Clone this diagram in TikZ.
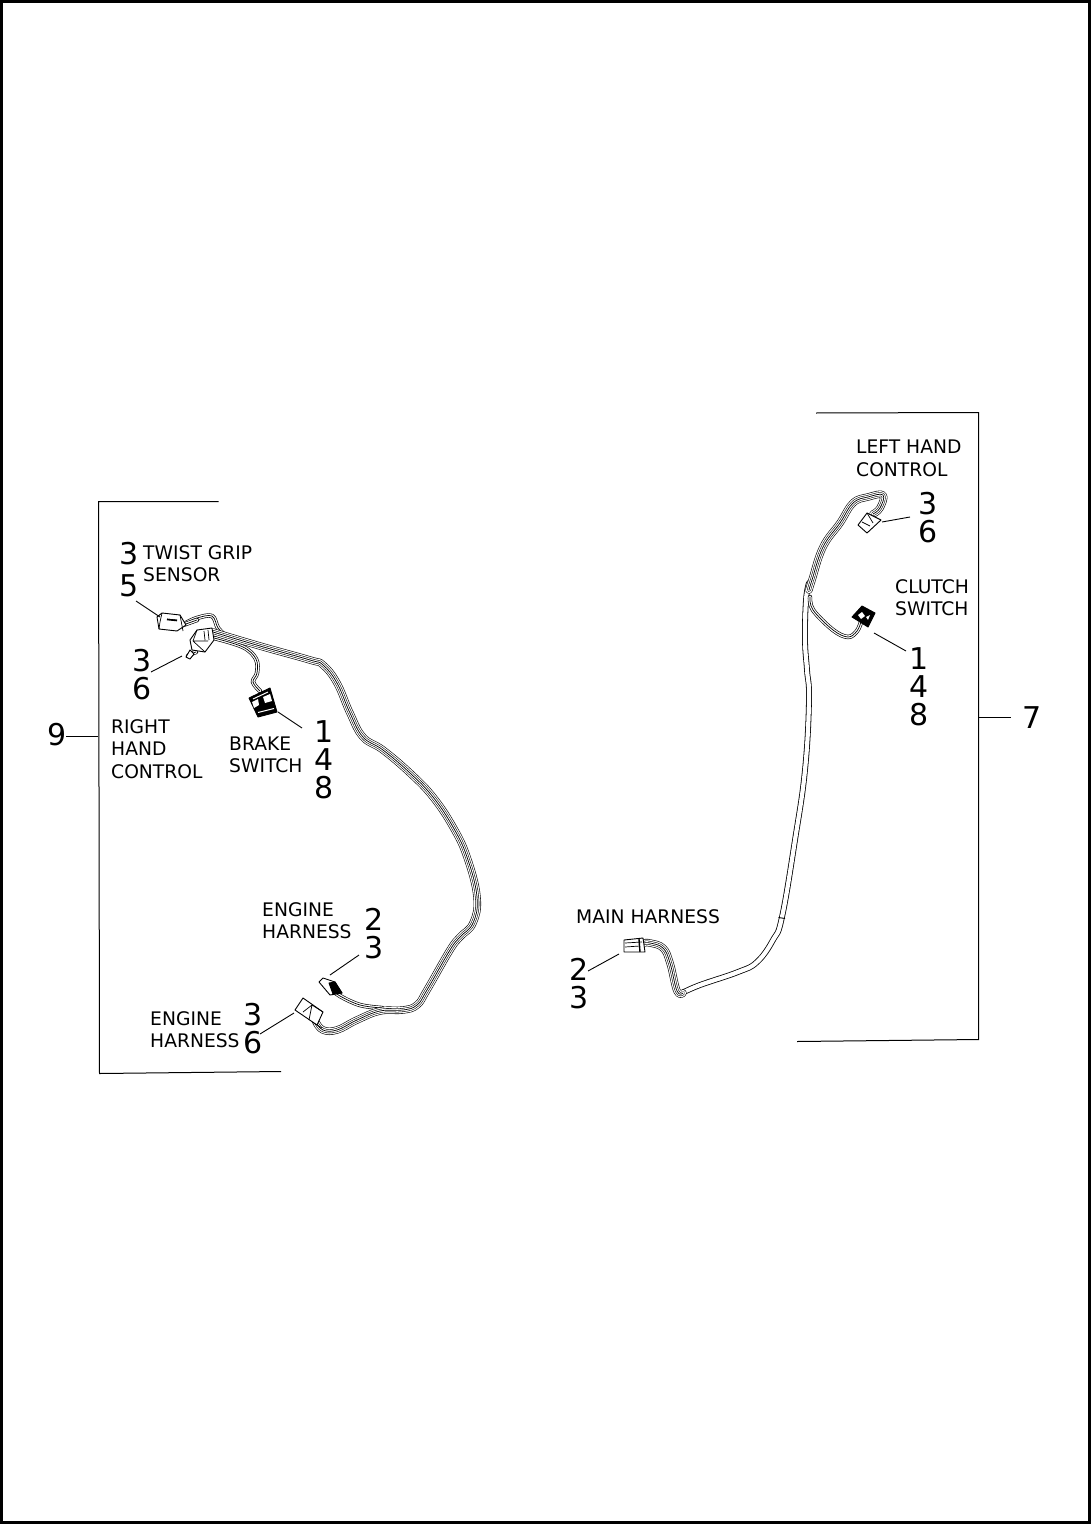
\documentclass[tikz,border=0pt]{standalone}
\usepackage{fontspec}
\setmainfont{DejaVu Sans}
\newcommand{\bundle}[1]{%
 \draw[bw,line width=7.4pt] plot[smooth,tension=.7] coordinates {#1};
 \draw[ww,line width=6.2pt] plot[smooth,tension=.7] coordinates {#1};
 \draw[bw,line width=3.9pt] plot[smooth,tension=.7] coordinates {#1};
 \draw[ww,line width=2.8pt] plot[smooth,tension=.7] coordinates {#1};
 \draw[bw,line width=.7pt] plot[smooth,tension=.7] coordinates {#1};}
\newcommand{\thinwire}[1]{%
 \draw[bw,line width=4.4pt] plot[smooth,tension=.6] coordinates {#1};
 \draw[ww,line width=3.1pt] plot[smooth,tension=.6] coordinates {#1};
 \draw[bw,line width=.7pt] plot[smooth,tension=.6] coordinates {#1};}
\newcommand{\tube}[1]{%
 \draw[bw,line width=5.8pt] plot[smooth,tension=.7] coordinates {#1};
 \draw[ww,line width=4.2pt] plot[smooth,tension=.7] coordinates {#1};}
\tikzset{
 bw/.style={black,line cap=round,line join=round},
 ww/.style={white,line cap=round,line join=round},
 lab/.style={anchor=west,inner sep=0pt,align=left,font=\fontsize{18.7}{22.6}\selectfont},
 num/.style={inner sep=0pt,align=center,font=\fontsize{30}{28}\selectfont},
 leader/.style={black,line width=.9pt},
 bracket/.style={black,line width=1pt},
 conn/.style={draw=black,fill=white,line width=.9pt,line join=round},
 connb/.style={draw=black,fill=black,line width=.9pt,line join=round},
 det/.style={black,line width=.7pt},
 detw/.style={white,line width=1pt},
 detk/.style={black,line width=1.6pt}
}
\begin{document}
\begin{tikzpicture}[x=1pt,y=-1pt]
\useasboundingbox (0,0) rectangle (1091,1525);
\draw[black,line width=3pt] (1.5,1.5) rectangle (1089.5,1522.5);
% brackets
\draw[bracket] (218.5,501.5) -- (98.5,501.5) -- (99.5,1073.5) -- (281,1071.5);
\draw[bracket] (816,413) -- (978.5,412.5) -- (978.5,1039.5) -- (797,1041.5);
% left harness
\thinwire{(186,623) (197,618) (212,616) (218,628) (226,636)}
\thinwire{(183,625) (197,620)}
\thinwire{(214,638) (243,647) (256,659) (257,673) (253,682) (260,691)}
\thinwire{(330,988) (340,996) (360,1005) (382,1008)}
\thinwire{(196,652) (191,654) (188,656)}
\bundle{(213,632) (260,646) (310,660) (323,665) (337,683) (350,713) (363,737) (383,750) (410,773) (433,797) (453,827) (467,857) (477,897) (473,923) (460,937) (450,950) (427,990) (417,1005) (403,1010) (380,1011) (357,1020) (337,1030) (323,1030) (316,1022)}
% left connectors
\filldraw[conn] (157,617) -- (162,613) -- (180,615) -- (186,625) -- (177,631) -- (159,629) -- cycle;
\draw[det] (162,613) -- (160,622) -- (159,629) (167,619) -- (177,620) (180,615) -- (183,631);
\draw[detk] (167,619.5) -- (177,620.5);
\filldraw[conn] (197,630) -- (212,628) -- (214,640) -- (205,652) -- (192,650) -- (190,640) -- cycle;
\draw[det] (197,630) -- (193,641) -- (205,652) (204,631) -- (205,640) (208,630) -- (209,640) (193,641) -- (208,641);
\filldraw[conn] (190,650) -- (194,654) -- (190,659) -- (186,657) -- cycle;
\filldraw[connb] (249,698) -- (270,688) -- (277,712) -- (258,717) -- cycle;
\fill[white] (252,702) -- (258,699) -- (259,705) -- (254,708) -- cycle;
\fill[white] (263,697) -- (270,694) -- (272,701) -- (265,703) -- cycle;
\draw[detw] (258,712.5) -- (274,708.5) (253,699) -- (268,692);
\filldraw[conn] (295,1010) -- (303,998) -- (323,1012) -- (317,1025) -- cycle;
\draw[det] (303,1012) -- (312,1005) -- (323,1012) (312,1005) -- (309,1020) (312,1022) -- (322,1028);
\filldraw[conn] (319,982) -- (323,978) -- (335,982) -- (342,993) -- (330,995) -- cycle;
\filldraw[connb] (329,983) -- (335,982) -- (342,993) -- (333,994) -- cycle;
% right harness
\tube{(809,583) (806,600) (805,640) (807,670) (809,700) (805,770) (795,840) (782,917) (773,940) (757,962) (738,972) (700,985) (682,993)}
\draw[black,line width=.9pt] (778.5,917.5) -- (785,918.5);
\bundle{(683,993) (677,991) (670,963) (663,948) (650,943) (644,943)}
\bundle{(809,590) (812,580) (823,547) (840,523) (853,503) (868,497) (883,495) (880,508) (873,514)}
\thinwire{(810,597) (813,610) (833,630) (848,637) (857,631) (861,622)}
% right connectors
\filldraw[conn] (858,525) -- (867,513) -- (881,520) -- (867,533) -- cycle;
\draw[det] (862,522) -- (870,526) (867,513) -- (873,523);
\filldraw[connb] (852,617) -- (862,606) -- (875,613) -- (868,627) -- cycle;
\fill[white] (858,615) -- (862,612) -- (865,616) -- (861,619) -- cycle;
\fill[white] (866,617) -- (870,615) -- (868,620) -- cycle;
\filldraw[conn] (624,940) -- (643,938) -- (645,952) -- (624,952) -- cycle;
\draw[det] (625,943) -- (642,942) (625,947) -- (640,946);
\draw[black,line width=1.4pt] (639,939) -- (640,952);
% labels
\node[lab] (twist) at (143,563.5) {TWIST GRIP\\SENSOR};
\node[lab] (rhc) at (111,749) {RIGHT\\HAND\\CONTROL};
\node[lab] (brake) at (229,755) {BRAKE\\SWITCH};
\node[lab] (eng1) at (262,920.5) {ENGINE\\HARNESS};
\node[lab] (eng2) at (150,1029.5) {ENGINE\\HARNESS};
\node[lab] (mainh) at (576,916.5) {MAIN HARNESS};
\node[lab] (lhc) at (856,458.5) {LEFT HAND\\CONTROL};
\node[lab] (clutch) at (895,597.5) {CLUTCH\\SWITCH};
% numbers
\node[num] (n35) at (129,570) {3\\[4pt]5};
\node[num] (n36a) at (142,674.5) {3\\6};
\node[num] (n148a) at (324,760) {1\\4\\8};
\node[num] (n23a) at (374,934) {2\\3};
\node[num] (n36b) at (253,1028.5) {3\\6};
\node[num] (n9) at (57,735) {9};
\node[num] (n7) at (1032,718) {7};
\node[num] (n23b) at (579,983.5) {2\\3};
\node[num] (n36c) at (928,517.5) {3\\6};
\node[num] (n148b) at (919,686.5) {1\\4\\8};
% leaders
\coordinate (a1) at (136,601); \coordinate (a2) at (160,617);
\coordinate (b1) at (151,672); \coordinate (b2) at (182,656);
\coordinate (c1) at (278,712); \coordinate (c2) at (302,728);
\coordinate (d1) at (330,975); \coordinate (d2) at (359,955);
\coordinate (e1) at (260,1034); \coordinate (e2) at (294,1013);
\coordinate (f1) at (588,971); \coordinate (f2) at (619,954);
\coordinate (g1) at (882,522); \coordinate (g2) at (910,517);
\coordinate (h1) at (874,633); \coordinate (h2) at (906,651);
\coordinate (i1) at (66,736); \coordinate (i2) at (98,736);
\coordinate (j1) at (978,717); \coordinate (j2) at (1011,717);
\foreach \p/\q in {a1/a2,b1/b2,c1/c2,d1/d2,e1/e2,f1/f2,g1/g2,h1/h2,i1/i2,j1/j2}
  \draw[leader] (\p) -- (\q);
\end{tikzpicture}
\end{document}
